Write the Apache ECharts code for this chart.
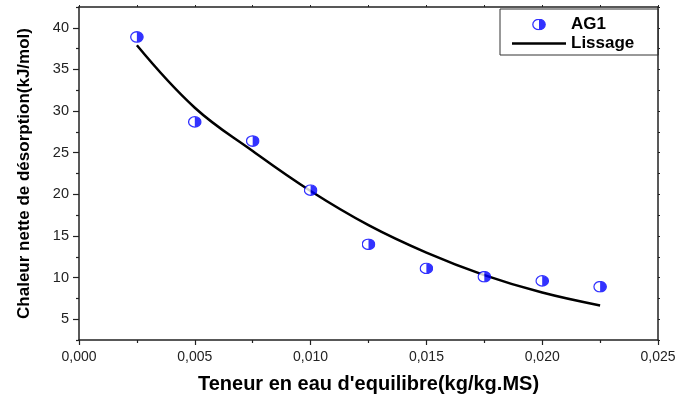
<!DOCTYPE html>
<html>
<head>
<meta charset="utf-8">
<script src="https://cdn.jsdelivr.net/npm/echarts@6/dist/echarts.min.js"></script>
<style>
  html, body { margin: 0; padding: 0; background: #fff; }
  #chart { width: 679px; height: 396px; }
</style>
</head>
<body>
<div id="chart"></div>
<script>
// Equilibrium moisture content (kg/kg.MS)
const moisture = [0.0025, 0.005, 0.0075, 0.01, 0.0125, 0.015, 0.0175, 0.02, 0.0225];
// Measured net heat of desorption, sample AG1 (kJ/mol)
const ag1 = [38.9, 28.7, 26.4, 20.5, 14.0, 11.1, 10.1, 9.6, 8.9];
// Fitted curve ("Lissage") at the same moisture contents
const fitted = [37.9, 30.4, 25.2, 20.4, 16.3, 13.0, 10.3, 8.2, 6.65];

// Axis ticks
const xTicks = [0, 0.005, 0.01, 0.015, 0.02, 0.025];
const yTicks = [5, 10, 15, 20, 25, 30, 35, 40];
const yMinorTicks = [2.5, 7.5, 12.5, 17.5, 22.5, 27.5, 32.5, 37.5, 42.5];

const FONT = '"Liberation Sans", Arial, sans-serif';
const AXIS_COLOR = '#222';

// Half-filled circle marker (left half open, right half blue)
const markerSvg =
  '<svg xmlns="http://www.w3.org/2000/svg" width="28" height="24" viewBox="0 0 28 24">' +
  '<ellipse cx="14" cy="12" rx="12.4" ry="10.4" fill="#ffffff" stroke="#0000ff" stroke-width="2.6"/>' +
  '<path d="M14 1.6 A12.4 10.4 0 0 1 14 22.4 Z" fill="#0000ff"/>' +
  '</svg>';
const markerSymbol = 'image://data:image/svg+xml;charset=utf-8,' + encodeURIComponent(markerSvg);
// Plain bar used as the legend icon of the fitted line
const lineIcon = 'path://M0,0 L54,0 L54,2.5 L0,2.5 Z';

const chart = echarts.init(document.getElementById('chart'), null, { renderer: 'canvas' });

const option = {
  animation: false,
  backgroundColor: '#ffffff',
  grid: { left: 79, right: 21, top: 7, bottom: 56, containLabel: false, outerBoundsMode: 'none' },
  legend: {
    left: 500,
    top: 9,
    orient: 'vertical',
    padding: [7, 24, 3, 12],
    itemGap: 2,
    itemWidth: 54,
    itemHeight: 12,
    borderColor: '#333',
    borderWidth: 1,
    borderRadius: 0,
    textStyle: { fontFamily: FONT, fontWeight: 'bold', fontSize: 17, color: '#000', lineHeight: 17 },
    data: [
      { name: 'AG1' },
      { name: 'Lissage', icon: lineIcon, itemStyle: { color: '#000' } }
    ]
  },
  xAxis: [
    {
      type: 'value',
      min: 0,
      max: 0.025,
      interval: 0.005,
      position: 'bottom',
      name: "Teneur en eau d'equilibre(kg/kg.MS)",
      nameLocation: 'middle',
      nameGap: 34,
      nameTextStyle: { fontFamily: FONT, fontWeight: 'bold', fontSize: 20, color: '#000' },
      axisLine: { show: true, onZero: false, lineStyle: { color: AXIS_COLOR, width: 1.5 } },
      axisTick: { show: true, inside: false, length: 5, lineStyle: { color: AXIS_COLOR, width: 1.2 } },
      minorTick: { show: true, splitNumber: 2, length: 3, lineStyle: { color: AXIS_COLOR, width: 1.2 } },
      axisLabel: {
        customValues: xTicks,
        margin: 10,
        fontFamily: FONT,
        fontSize: 14,
        color: '#222',
        formatter: v => v.toFixed(3).replace('.', ',')
      },
      splitLine: { show: false }
    },
    {
      type: 'value',
      min: 0,
      max: 0.025,
      interval: 0.005,
      position: 'top',
      axisLine: { show: true, onZero: false, lineStyle: { color: AXIS_COLOR, width: 1.5 } },
      axisTick: { show: true, inside: false, length: 2, lineStyle: { color: AXIS_COLOR, width: 1 } },
      minorTick: { show: true, splitNumber: 2, length: 2, lineStyle: { color: AXIS_COLOR, width: 1 } },
      axisLabel: { show: false },
      splitLine: { show: false }
    }
  ],
  yAxis: [
    {
      type: 'value',
      min: 2.5,
      max: 42.5,
      interval: 2.5,
      position: 'left',
      name: 'Chaleur nette de désorption(kJ/mol)',
      nameLocation: 'middle',
      nameRotate: 90,
      nameGap: 46,
      nameTextStyle: { fontFamily: FONT, fontWeight: 'bold', fontSize: 17, color: '#000' },
      axisLine: { show: true, onZero: false, lineStyle: { color: AXIS_COLOR, width: 1.5 } },
      axisTick: { show: true, customValues: yTicks, length: 6, lineStyle: { color: AXIS_COLOR, width: 1.2 } },
      axisLabel: {
        customValues: yTicks,
        margin: 10,
        fontFamily: FONT,
        fontSize: 14.5,
        color: '#222'
      },
      splitLine: { show: false }
    },
    {
      type: 'value',
      min: 2.5,
      max: 42.5,
      interval: 2.5,
      position: 'left',
      axisLine: { show: false },
      axisTick: { show: true, customValues: yMinorTicks, length: 3, lineStyle: { color: AXIS_COLOR, width: 1.2 } },
      axisLabel: { show: false },
      splitLine: { show: false }
    },
    {
      type: 'value',
      min: 2.5,
      max: 42.5,
      interval: 2.5,
      position: 'right',
      axisLine: { show: true, onZero: false, lineStyle: { color: AXIS_COLOR, width: 1.5 } },
      axisTick: { show: true, length: 2, lineStyle: { color: AXIS_COLOR, width: 1 } },
      axisLabel: { show: false },
      splitLine: { show: false }
    }
  ],
  series: [
    {
      name: 'Lissage',
      type: 'line',
      xAxisIndex: 0,
      yAxisIndex: 0,
      data: moisture.map((x, i) => [x, fitted[i]]),
      smooth: 0.4,
      symbol: 'none',
      lineStyle: { color: '#000', width: 2.5 },
      itemStyle: { color: '#000' },
      z: 2
    },
    {
      name: 'AG1',
      type: 'scatter',
      xAxisIndex: 0,
      yAxisIndex: 0,
      data: moisture.map((x, i) => [x, ag1[i]]),
      symbol: markerSymbol,
      symbolSize: [14, 12],
      z: 3
    }
  ]
};

chart.setOption(option);
</script>
</body>
</html>
